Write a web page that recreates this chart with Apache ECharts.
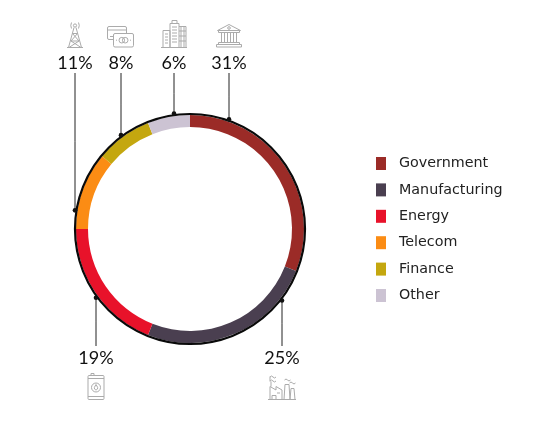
<!DOCTYPE html>
<html>
<head>
<meta charset="utf-8">
<script src="https://cdn.jsdelivr.net/npm/echarts@6/dist/echarts.min.js"></script>
<style>html,body{margin:0;padding:0;background:#fff;}#main{width:555px;height:429px;}</style>
</head>
<body>
<div id="main"></div>
<script>
// ---- data ----
const categories = ['Government', 'Manufacturing', 'Energy', 'Telecom', 'Finance', 'Other'];
const shares = [31, 25, 19, 11, 8, 6];
const colors = ['#9B2B27', '#4A3F50', '#E8122A', '#FB8C14', '#C4A70F', '#CCC3D3'];

// ---- layout (not data) ----
const CX = 190, CY = 229, R_IN = 102, R_OUT = 114, R_DOT = 116.5;
const labelX = [229, 282, 96, 75, 121, 174];
const labelSide = ['top', 'bottom', 'bottom', 'top', 'top', 'top'];
const TOP_EDGE = 73, BOTTOM_EDGE = 346, BOTTOM_TEXT = 348;

const G = '#ababab';
function svgURI(w, h, body) {
  const s = '<svg xmlns="http://www.w3.org/2000/svg" width="' + w + '" height="' + h + '" viewBox="0 0 ' + w + ' ' + h + '">' +
    '<g fill="none" stroke="' + G + '" stroke-width="1" stroke-linejoin="round">' + body + '</g></svg>';
  return 'data:image/svg+xml;charset=utf-8,' + encodeURIComponent(s);
}
const icons = {
  Government: { w: 28, h: 26, src: svgURI(28, 26,
    '<path d="M2.5,8.5 L14,2.5 L25.5,8.5 Z"/><circle cx="14" cy="6" r="1.3"/>' +
    '<rect x="3.5" y="8.5" width="21" height="2"/>' +
    '<path d="M6.5,11 V20.5 M9.5,11 V20.5 M12.5,11 V20.5 M15.5,11 V20.5 M18.5,11 V20.5 M21.5,11 V20.5"/>' +
    '<rect x="3.5" y="20.5" width="21" height="2"/><rect x="1.5" y="22.5" width="25" height="2.5"/>') },
  Manufacturing: { w: 29, h: 27, src: svgURI(29, 27,
    '<path d="M0.5,26.5 H28.5"/>' +
    '<path d="M2.5,26.5 V13.5 L8.5,17 V13.5 L14.5,17 V26.5"/>' +
    '<path d="M4.5,26.5 V22.5 H8.5 V26.5 M9.5,20 H12.5"/>' +
    '<path d="M16.5,26.5 L17.5,11.5 H21.5 L22.5,26.5"/><path d="M22.5,26.5 L23.5,15.5 H26.5 L27.5,26.5"/>' +
    '<path d="M2.5,8 q1.5,-2 3,0 t3,0 M2.5,4 q1.5,-2 3,0 t3,0 M17,7 q1.5,-2 3,0 t3,0 M22,10 q1.5,-2 3,0 t3,0"/>' +
    '<path d="M3.5,13.5 V8.5 M2.5,8.5 V3.5"/>') },
  Energy: { w: 19, h: 27, src: svgURI(19, 27,
    '<rect x="1.5" y="2.5" width="16" height="24" rx="1"/>' +
    '<path d="M1.5,5.5 H17.5 M1.5,23.5 H17.5"/><rect x="4.5" y="0.5" width="3" height="2"/>' +
    '<circle cx="9.5" cy="14.5" r="4.5"/><path d="M9.5,11.5 Q12,15 11,16 A1.8,1.8 0 0 1 8,16 Q7,15 9.5,11.5 Z"/>') },
  Telecom: { w: 18, h: 27, src: svgURI(18, 27,
    '<circle cx="9" cy="4.5" r="1.6"/><path d="M5.5,1.5 Q4,4.5 5.5,7.5 M12.5,1.5 Q14,4.5 12.5,7.5"/>' +
    '<path d="M8,6.5 L2.5,26.5 M10,6.5 L15.5,26.5 M1,26.5 H17"/>' +
    '<path d="M6.5,12.5 H11.5 M6.5,12.5 L13,20 M11.5,12.5 L5,20 M5,20 H13 M5,20 L15,26.5 M13,20 L3,26.5"/>') },
  Finance: { w: 28, h: 22, src: svgURI(28, 22,
    '<rect x="0.5" y="0.5" width="19" height="13" rx="1.5"/><path d="M0.5,4 H19.5 M3,10.5 H6"/>' +
    '<rect x="6.5" y="7.5" width="20" height="13.5" rx="1.5" fill="#fff"/>' +
    '<circle cx="14.8" cy="14.2" r="2.8"/><circle cx="18.2" cy="14.2" r="2.8"/>' +
    '<path d="M9,14.2 h1.5 M23,14.2 h1.5" stroke-dasharray="1,1"/>') },
  Other: { w: 27, h: 28, src: svgURI(27, 28,
    '<path d="M0.5,27.5 H26.5"/>' +
    '<rect x="9.5" y="3.5" width="9" height="24"/><path d="M11.5,0.5 H16.5 V3.5 M11.5,0.5 V3.5"/>' +
    '<rect x="2.5" y="10.5" width="7" height="17"/>' +
    '<path d="M4.5,14 h3 M4.5,17 h3 M4.5,20 h3 M4.5,23 h3"/>' +
    '<path d="M11.5,7 h5 M11.5,10 h5 M11.5,13 h5 M11.5,16 h5 M11.5,19 h5 M11.5,22 h5"/>' +
    '<path d="M18.5,6.5 H25.5 V27.5 M20.5,6.5 V27.5 M23.5,6.5 V27.5 M18.5,11 H25.5 M18.5,16 H25.5 M18.5,21 H25.5"/>') }
};

const rich = { p: { fontFamily: 'Lato', fontSize: 18, color: '#111', lineHeight: 20, align: 'center' } };
categories.forEach(function (c, i) {
  rich['i' + i] = { width: icons[c].w, height: icons[c].h, align: 'center', backgroundColor: { image: icons[c].src } };
  rich['s' + i] = { height: 5, lineHeight: 5, align: 'center' };
});

function dotPos(i) {
  const x = labelX[i];
  const dx = x - CX;
  const dy = Math.sqrt(R_DOT * R_DOT - dx * dx);
  return [x, labelSide[i] === 'top' ? CY - dy : CY + dy];
}

const chart = echarts.init(document.getElementById('main'), null, { renderer: 'canvas' });
chart.setOption({
  backgroundColor: '#fff',
  animation: false,
  color: colors,
  legend: {
    orient: 'vertical',
    left: 376,
    top: 156,
    padding: 0,
    icon: 'rect',
    itemWidth: 10,
    itemHeight: 13,
    itemGap: 11.4,
    selectedMode: false,
    textStyle: { fontFamily: 'DejaVu Sans', fontSize: 14.3, color: '#222', lineHeight: 15, padding: [0, 0, 0, 8] },
    data: categories
  },
  graphic: [
    { type: 'circle', shape: { cx: CX, cy: CY, r: R_OUT + 1 }, style: { fill: 'none', stroke: '#0a0a0a', lineWidth: 2.2 }, z: 10, silent: true }
  ].concat(categories.map(function (c, i) {
    const p = dotPos(i);
    return { type: 'circle', shape: { cx: p[0], cy: p[1], r: 2.3 }, style: { fill: '#111' }, z: 11, silent: true };
  })),
  series: [{
    type: 'pie',
    center: [CX, CY],
    radius: [R_IN, R_OUT],
    startAngle: 90,
    clockwise: true,
    avoidLabelOverlap: false,
    silent: true,
    emphasis: { disabled: true },
    itemStyle: { borderWidth: 0 },
    label: {
      show: true,
      position: 'outside',
      rich: rich,
      formatter: function (params) {
        const i = params.dataIndex;
        const pct = '{p|' + shares[i] + '%}';
        return labelSide[i] === 'top'
          ? '{i' + i + '|}\n{s' + i + '|}\n' + pct
          : pct + '\n{s' + i + '|}\n{i' + i + '|}';
      }
    },
    labelLine: { show: true, lineStyle: { color: '#222', width: 1 } },
    labelLayout: function (params) {
      const i = params.dataIndex;
      const top = labelSide[i] === 'top';
      const p = dotPos(i);
      const edge = top ? TOP_EDGE : BOTTOM_EDGE;
      return {
        x: labelX[i],
        y: top ? TOP_EDGE : BOTTOM_TEXT,
        align: 'center',
        verticalAlign: top ? 'bottom' : 'top',
        labelLinePoints: [[p[0], p[1]], [p[0], (p[1] + edge) / 2], [p[0], edge]]
      };
    },
    data: categories.map(function (c, i) { return { name: c, value: shares[i] }; })
  }]
});
</script>
</body>
</html>
